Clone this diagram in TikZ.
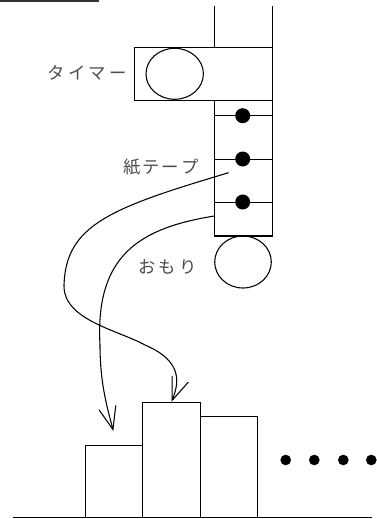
\documentclass[tikz,border=0pt]{standalone}
\usepackage{fontspec}
\newfontfamily\jpfont{Noto Sans CJK JP}
\usetikzlibrary{arrows.meta}
\begin{document}
\begin{tikzpicture}[x=0.75pt,y=-0.75pt,
  ln/.style={line width=0.8pt,black},
  lbl/.style={font=\jpfont\fontsize{13pt}{15pt}\selectfont,text=black!70,inner sep=0pt},
  dotmark/.style={circle,fill=black,inner sep=0pt,minimum size=#1},
  bar/.style={ln,draw,rectangle,inner sep=0pt,anchor=south west},
  arr/.style={ln,-{Straight Barb[length=17pt,width=13pt,line width=0.8pt]}}]
\useasboundingbox (0,0) rectangle (376,519);
% top-left line
\draw[line width=1.3pt,black!80] (0,0.8) -- (99,0.8);
% support rails
\draw[ln] (214.7,6) -- (214.7,47.7);
\draw[ln] (272.3,6) -- (272.3,47.7);
% timer
\draw[ln] (134.7,47.7) rectangle (272.3,100.3);
\draw[ln] (174.7,73.8) ellipse [x radius=28.7, y radius=25.5];
\node[lbl,anchor=east] (timer) at (127,73) {タ\hspace{2.5pt}イ\hspace{2.5pt}マ\hspace{2.5pt}ー};
% tape
\draw[ln] (214.7,100.3) rectangle (272.3,236);
\foreach \yy [count=\i] in {115.7,159,202}{
  \draw[ln,line width=0.6pt] (214.7,\yy) -- (272.3,\yy);
  \node[dotmark=11.25pt] (d\i) at (242.7,\yy) {};
}
\node[lbl,anchor=west] (tape) at (123,167) {紙\hspace{1.5pt}テ\hspace{1.5pt}ー\hspace{1.5pt}プ};
% weight
\draw[ln] (243,262) ellipse [x radius=28.3, y radius=26];
\node[lbl,anchor=west] (weight) at (138,266.7) {お\hspace{2.5pt}も\hspace{2.5pt}り};
% baseline and bars
\draw[ln] (13,517.7) -- (372,517.7);
\node[bar,minimum width=43pt,minimum height=53.8pt] (b1) at (85,517.7) {};
\node[bar,minimum width=43.3pt,minimum height=86.25pt] (b2) at (142.3,517.7) {};
\node[bar,minimum width=43pt,minimum height=75.3pt] (b3) at (200,517.7) {};
\foreach \xx [count=\i] in {285.7,314.3,343.3,371.3}
  \node[dotmark=8pt] (e\i) at (\xx,460) {};
% curves
\coordinate (s1) at (228.7,172.7);
\coordinate (s2) at (214.3,216);
\coordinate (t1) at (113.3,431);
\draw[arr] (s1) .. controls (110,208) and (66,225) .. (64,285)
  .. controls (63,320) and (118,330) .. (145,345)
  .. controls (185,362) and (178,385) .. (b2.north);
\draw[arr] (s2) .. controls (140,228) and (95,255) .. (100,345)
  .. controls (100,385) and (108,410) .. (t1);
\end{tikzpicture}
\end{document}
